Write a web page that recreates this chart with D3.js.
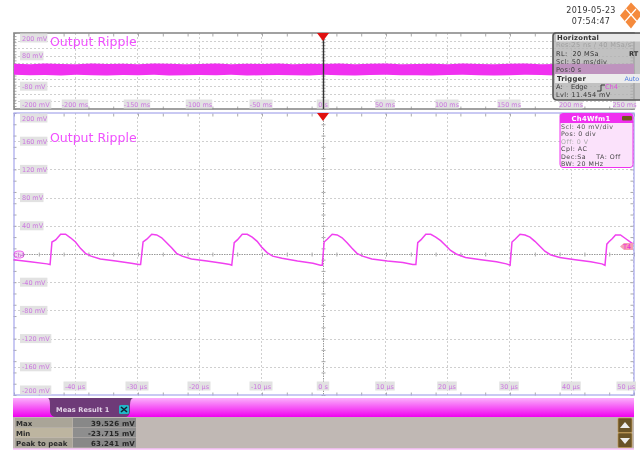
<!DOCTYPE html>
<html><head><meta charset="utf-8">
<script src="https://cdn.jsdelivr.net/npm/d3@7/dist/d3.min.js"></script>
<style>
html,body{margin:0;padding:0;background:#fff;overflow:hidden}
svg{display:block;filter:blur(0.35px)}
text{font-family:"DejaVu Sans",sans-serif;white-space:pre}
</style></head><body>
<script>
const timeUs=[-50,-47.3,-44.6,-44.1,-43.8,-43.2,-42.4,-41.6,-40.8,-40,-39.2,-38.4,-37.5,-36,-33.5,-31,-29.8,-29.5,
 -29.1,-28.5,-27.7,-26.9,-26.1,-25.3,-24.5,-23.7,-22.8,-21.3,-18.8,-16.3,-15.1,-14.8,
 -14.4,-13.9,-13.1,-12.3,-11.5,-10.7,-9.9,-9.1,-8.2,-6.7,-4.2,-1.7,-0.5,-0.2,
 0.1,0.6,1.4,2.2,3,3.8,4.6,5.4,6.3,7.8,10.3,12.8,14.4,14.9,
 15.2,15.7,16.5,17.3,18.1,18.9,19.7,20.5,21.4,22.9,25.4,27.9,29.5,30.1,
 30.4,30.9,31.7,32.5,33.3,34.1,34.9,35.7,36.6,38.1,40.6,43.1,44.9,45.4,
 45.7,46,46.6,47.1,47.9,48.7,49.5,50];
const rippleMv=[-8,-11,-14,-15,17,20,28,28,23,17,8,1,-3,-7,-10,-13,-15,-15,
 17,21,28,27,23,16,9,1,-3,-7,-10,-13,-15,-16,
 16,20,28,28,24,18,9,2,-3,-6,-10,-13,-16,-16,
 17,21,28,27,23,16,8,1,-3,-7,-10,-12,-15,-15,
 16,20,28,28,24,19,12,5,0,-5,-8,-11,-14,-16,
 17,21,28,27,24,18,11,4,-1,-5,-8,-11,-14,-16,
 14,17,22,27,27,22,17,14];
const bandMs=[-250,-237,-225,-212,-200,-187,-175,-162,-150,-137,-125,-112,-100,-87,-75,-62,-50,-37,-25,-12,0,12,25,37,50,62,75,87,100,112,125,137,150,162,175,187,200,212,225,237,250];
const bandMax=[38,36,39,37,36,39,37,38,36,39,38,36,37,39,36,38,37,39,36,38,37,39,36,38,39,36,37,38,36,39,37,36,38,39,36,37,39,38,36,37,38];
const bandMin=[-20,-23,-21,-24,-20,-22,-24,-21,-23,-20,-24,-22,-21,-23,-20,-24,-22,-21,-23,-24,-20,-22,-24,-21,-20,-23,-22,-24,-21,-20,-23,-24,-22,-20,-21,-24,-23,-20,-22,-21,-23];
const mainYTicks=[200,160,120,80,40,-40,-80,-120,-160,-200];
const topYTicks=[200,80,-80,-200];
const mainXTicks=[-40,-30,-20,-10,0,10,20,30,40,50];
const topXTicks=[-200,-150,-100,-50,0,50,100,150,200,250];
const gridMv=[160,120,80,40,0,-40,-80,-120,-160];
const topGridMv=[160,120,80,40,0,-40,-80,-120,-160];
const measNames=["Max","Min","Peak to peak"];
const measValues=["39.526 mV","-23.715 mV","63.241 mV"];
const horizRows=[["Res:25 ns / 40 MSa/s",47,"#a0a0a0"],["RL:  20 MSa",56,"#333"],["Scl: 50 ms/div",64,"#444"],["Pos:0 s",72,"#444"]];
const chRows=[["Scl: 40 mV/div","#555"],["Pos: 0 div","#444"],["Off: 0 V","#aaa"],["Cpl: AC","#444"],["Dec:Sa    TA: Off","#444"],["BW: 20 MHz","#444"]];

const magenta="#f030f0", lab="#cc78e0";
const svg=d3.select("body").append("svg").attr("width",640).attr("height",451);
const defs=svg.append("defs");
const g1=defs.append("linearGradient").attr("id","mg").attr("x1",0).attr("x2",0).attr("y1",0).attr("y2",1);
g1.append("stop").attr("offset",0).attr("stop-color","#fbb0fb");
g1.append("stop").attr("offset",1).attr("stop-color","#f000f0");

const x=d3.scaleLinear().domain([-50,50]).range([13,633]);
const y=d3.scaleLinear().domain([200,-200]).range([113,395]);
const xT=d3.scaleLinear().domain([-250,250]).range([13,633]);
const yT=d3.scaleLinear().domain([200,-200]).range([33,109]);

function panel(X,Y,xTicks,xUnit,yTicks,grid,border,bw){
  const g=svg.append("g");
  const x0=X.range()[0]+1,x1=X.range()[1]+1,y0=Y.range()[0],y1=Y.range()[1];
  g.selectAll(".hg").data(grid).join("line").attr("x1",x0).attr("x2",x1).attr("y1",d=>Math.round(Y(d))+.5).attr("y2",d=>Math.round(Y(d))+.5)
    .attr("stroke",d=>d===0?"#999":"#cfcfcf").attr("stroke-dasharray",d=>d===0?"1.5 1":"2 2");
  g.selectAll(".vg").data(xTicks).join("line").attr("y1",y0).attr("y2",y1).attr("x1",d=>Math.round(X(d))+.5).attr("x2",d=>Math.round(X(d))+.5)
    .attr("stroke",d=>d===0?"#999":"#cfcfcf").attr("stroke-dasharray",d=>d===0?"1.5 1":"2 2");
  const xMinor=d3.range(X.domain()[0],X.domain()[1]+1e-6,(X.domain()[1]-X.domain()[0])/50);
  const yMinor=d3.range(Y.domain()[1],Y.domain()[0]+1e-6,(Y.domain()[0]-Y.domain()[1])/50);
  [[y0,d3.axisBottom(X),3],[y1,d3.axisTop(X),3],[Math.round(Y(0)),d3.axisBottom(X),2],[Math.round(Y(0)),d3.axisTop(X),2]].forEach(([p,a,s])=>{
    const ax=g.append("g").attr("transform",`translate(1,${p+.5})`).call(a.tickValues(xMinor.filter((d,i)=>i%2==0)).tickSize(s).tickFormat(""));
    ax.select(".domain").remove();ax.selectAll("line").attr("stroke","#aaa");
  });
  [[x0,d3.axisRight(Y),3],[x1,d3.axisLeft(Y),3],[Math.round(X(0))+1,d3.axisRight(Y),2],[Math.round(X(0))+1,d3.axisLeft(Y),2]].forEach(([p,a,s])=>{
    const ax=g.append("g").attr("transform",`translate(${p-.5},0)`).call(a.tickValues(yMinor.filter((d,i)=>i%2==0)).tickSize(s).tickFormat(""));
    ax.select(".domain").remove();ax.selectAll("line").attr("stroke","#aaa");
  });
  g.append("rect").attr("x",x0).attr("y",y0).attr("width",x1-x0).attr("height",y1-y0).attr("fill","none").attr("stroke",border).attr("stroke-width",bw);
  return g;
}
function labels(g,X,Y,xTicks,xUnit,yTicks,labY){
  const yf=d=>d+" mV";
  yTicks.forEach(d=>{
    const py=d===Y.domain()[0]?Y(d)+5:d===Y.domain()[1]?Y(d)-5:Y(d);
    const w=yf(d).length*3.9+4;
    g.append("rect").attr("x",20).attr("y",py-4.5).attr("width",w).attr("height",9).attr("fill","#e2e2e2");
    g.append("text").attr("x",22).attr("y",py+2.5).attr("font-size",6.5).attr("fill",lab).text(yf(d));
  });
  xTicks.forEach(d=>{
    const t=d===0?"0 s":d+" "+xUnit;
    const w=t.length*3.5+2, cx=Math.min(X(d),636-w/2);
    g.append("rect").attr("x",cx-w/2).attr("y",labY-4.5).attr("width",w).attr("height",9).attr("fill","#e2e2e2");
    g.append("text").attr("x",cx).attr("y",labY+2.5).attr("text-anchor","middle").attr("font-size",6.5).attr("fill",lab).text(t);
  });
}
// top overview
const gT=panel(xT,yT,topXTicks,"ms",[],topGridMv,"#8a8a8a",1.6);
labels(gT,xT,yT,topXTicks,"ms",topYTicks,104);
gT.append("path").datum(bandMs).attr("fill",magenta).attr("d",d3.area().x(d=>xT(d)+1).y0((d,i)=>yT(bandMax[i])).y1((d,i)=>yT(bandMin[i])));
gT.append("line").attr("x1",xT(0)+.5).attr("x2",xT(0)+.5).attr("y1",33).attr("y2",109).attr("stroke","#333").attr("stroke-width",1.4);
gT.append("text").attr("x",50).attr("y",46).attr("font-size",12.5).attr("fill","#f050ff").text("Output Ripple");
gT.append("path").attr("d","M317,33H329L323,41Z").attr("fill","#e01010");

// main
const gM=panel(x,y,mainXTicks,"µs",[],gridMv,"#a6a6ec",1.2);
labels(gM,x,y,mainXTicks,"µs",mainYTicks,386);
gM.append("path").datum(timeUs).attr("fill","none").attr("stroke","#f040f0").attr("stroke-width",1.5)
  .attr("d",d3.line().x(d=>x(d)+.5).y((d,i)=>y(rippleMv[i])));
gM.append("text").attr("x",50).attr("y",142).attr("font-size",12.5).attr("fill","#f050ff").text("Output Ripple");
gM.append("path").attr("d","M317,113H329L323,121Z").attr("fill","#e01010");
gM.append("rect").attr("x",14).attr("y",251).attr("width",10).attr("height",7).attr("rx",3.5).attr("fill","#f4d4f4").attr("stroke",magenta).attr("stroke-width",.7);
gM.append("text").attr("x",19).attr("y",257).attr("text-anchor","middle").attr("font-size",5.5).attr("fill","#b060c0").text("Ch4");
gM.append("path").attr("d","M633,243H624L620,246.5L624,250H633Z").attr("fill","#f4a0b4");
gM.append("text").attr("x",627).attr("y",249).attr("text-anchor","middle").attr("font-size",6.5).attr("fill","#f020e0").text("T4");

// header
svg.append("text").attr("x",591).attr("y",13).attr("text-anchor","middle").attr("font-size",8).attr("letter-spacing",.3).attr("fill","#333").text("2019-05-23");
svg.append("text").attr("x",591).attr("y",24).attr("text-anchor","middle").attr("font-size",8).attr("letter-spacing",.3).attr("fill","#333").text("07:54:47");
const logo=svg.append("g").attr("transform","translate(631,15.5)");
logo.append("path").attr("d","M0,-13L11,-1.5L0,13L-11,0Z").attr("fill","#f58a3c");
logo.append("path").attr("d","M-5,-6.5L6,6M5,-6.5L-6,6").attr("stroke","#fff").attr("stroke-width",1.2);

// Horizontal box
const hb=svg.append("g");
hb.append("path").attr("d","M640,33H556Q553,33 553,36V96Q553,100 557,100H640").attr("fill","#b0b0b0").attr("fill-opacity",.78).attr("stroke","#555").attr("stroke-width",1.6);
hb.append("rect").attr("x",556).attr("y",34).attr("width",84).attr("height",7.5).attr("fill","#e8e8e8");
hb.append("text").attr("x",557).attr("y",39.5).attr("font-size",6.8).attr("font-weight","bold").attr("letter-spacing",.25).attr("fill","#333").text("Horizontal");
horizRows.forEach(r=>hb.append("text").attr("x",556).attr("y",r[1]).attr("font-size",6.6).attr("letter-spacing",.35).attr("fill",r[2]).text(r[0]));
hb.append("text").attr("x",629).attr("y",56).attr("font-size",6.6).attr("font-weight","bold").attr("fill","#333").text("RT");
hb.append("rect").attr("x",555).attr("y",74).attr("width",85).attr("height",9).attr("fill","#ececec");
hb.append("text").attr("x",557).attr("y",80.5).attr("font-size",6.8).attr("font-weight","bold").attr("letter-spacing",.25).attr("fill","#333").text("Trigger");
hb.append("text").attr("x",639).attr("y",80.5).attr("text-anchor","end").attr("font-size",6.3).attr("fill","#4a78e0").text("Auto");
hb.append("text").attr("x",556).attr("y",89).attr("font-size",6.6).attr("fill","#333").text("A:    Edge");
hb.append("path").attr("d","M597,91H601V85H605").attr("fill","none").attr("stroke","#333");
hb.append("text").attr("x",605).attr("y",89).attr("font-size",6.6).attr("fill","#e050e0").text("Ch4");
hb.append("text").attr("x",556).attr("y",97).attr("font-size",6.6).attr("letter-spacing",.35).attr("fill","#333").text("Lvl: 11.454 mV");

// Ch4 box
const cb=svg.append("g");
cb.append("rect").attr("x",560).attr("y",113.5).attr("width",73).attr("height",54).attr("rx",3).attr("fill","#fbe2fb").attr("stroke",magenta);
cb.append("path").attr("d","M560,123V116.5Q560,113.5 563,113.5H630Q633,113.5 633,116.5V123Z").attr("fill",magenta);
cb.append("text").attr("x",591).attr("y",121).attr("text-anchor","middle").attr("font-size",6.8).attr("font-weight","bold").attr("letter-spacing",.3).attr("fill","#fff").text("Ch4Wfm1");
cb.append("rect").attr("x",622).attr("y",116).attr("width",10).attr("height",4.5).attr("rx",1).attr("fill","#70581c");
chRows.forEach((r,i)=>cb.append("text").attr("x",561).attr("y",128.5+i*7.5).attr("font-size",6.3).attr("letter-spacing",.5).attr("fill",r[1]).text(r[0]));

// Measurement bar
const mb=svg.append("g");
mb.append("rect").attr("x",13).attr("y",398).attr("width",621).attr("height",50.5).attr("fill","#c0b8b4");
mb.append("rect").attr("x",13).attr("y",398).attr("width",621).attr("height",19).attr("fill","url(#mg)");
mb.append("path").attr("d","M48,398H133Q130,399 130,405V412Q129,417 125,417H56Q51,417 50,412V405Q50,399 48,398Z").attr("fill","#6e3a78");
mb.append("text").attr("x",56).attr("y",412).attr("font-size",6.6).attr("font-weight","bold").attr("letter-spacing",.1).attr("fill","#e4d4e8").text("Meas Result 1");
mb.append("rect").attr("x",119).attr("y",405).attr("width",10).attr("height",9).attr("rx",1.5).attr("fill","#20b8c8");
mb.append("path").attr("d","M121,407L127,412M127,407L121,412").attr("stroke","#123").attr("stroke-width",1.6);
const rowY=d3.scaleBand().domain(measNames).range([418,448]);
measNames.forEach((n,i)=>{
  mb.append("rect").attr("x",15).attr("y",rowY(n)).attr("width",57.5).attr("height",rowY.bandwidth()-.5).attr("fill",i%2?"#bdb5a0":"#aaa598");
  mb.append("rect").attr("x",73).attr("y",rowY(n)).attr("width",63).attr("height",rowY.bandwidth()-.5).attr("fill",i%2?"#8e8e8e":"#888");
  mb.append("text").attr("x",16).attr("y",rowY(n)+8).attr("font-size",7).attr("font-weight","bold").attr("fill","#2c2c2c").text(n);
  mb.append("text").attr("x",135).attr("y",rowY(n)+8).attr("text-anchor","end").attr("font-size",7).attr("font-weight","bold").attr("letter-spacing",.2).attr("fill","#262626").text(measValues[i]);
});
mb.append("line").attr("x1",13).attr("x2",634).attr("y1",449).attr("y2",449).attr("stroke","#f8a0f8");
[[418,"M625,422L630,428H620Z"],[433,"M620,438H630L625,444Z"]].forEach(([py,p])=>{
  mb.append("rect").attr("x",618).attr("y",py).attr("width",14).attr("height",14.5).attr("rx",1).attr("fill","#6a5428").attr("stroke","#c09a50").attr("stroke-width",.7);
  mb.append("path").attr("d",p).attr("fill","#eee");
});
</script></body></html>
